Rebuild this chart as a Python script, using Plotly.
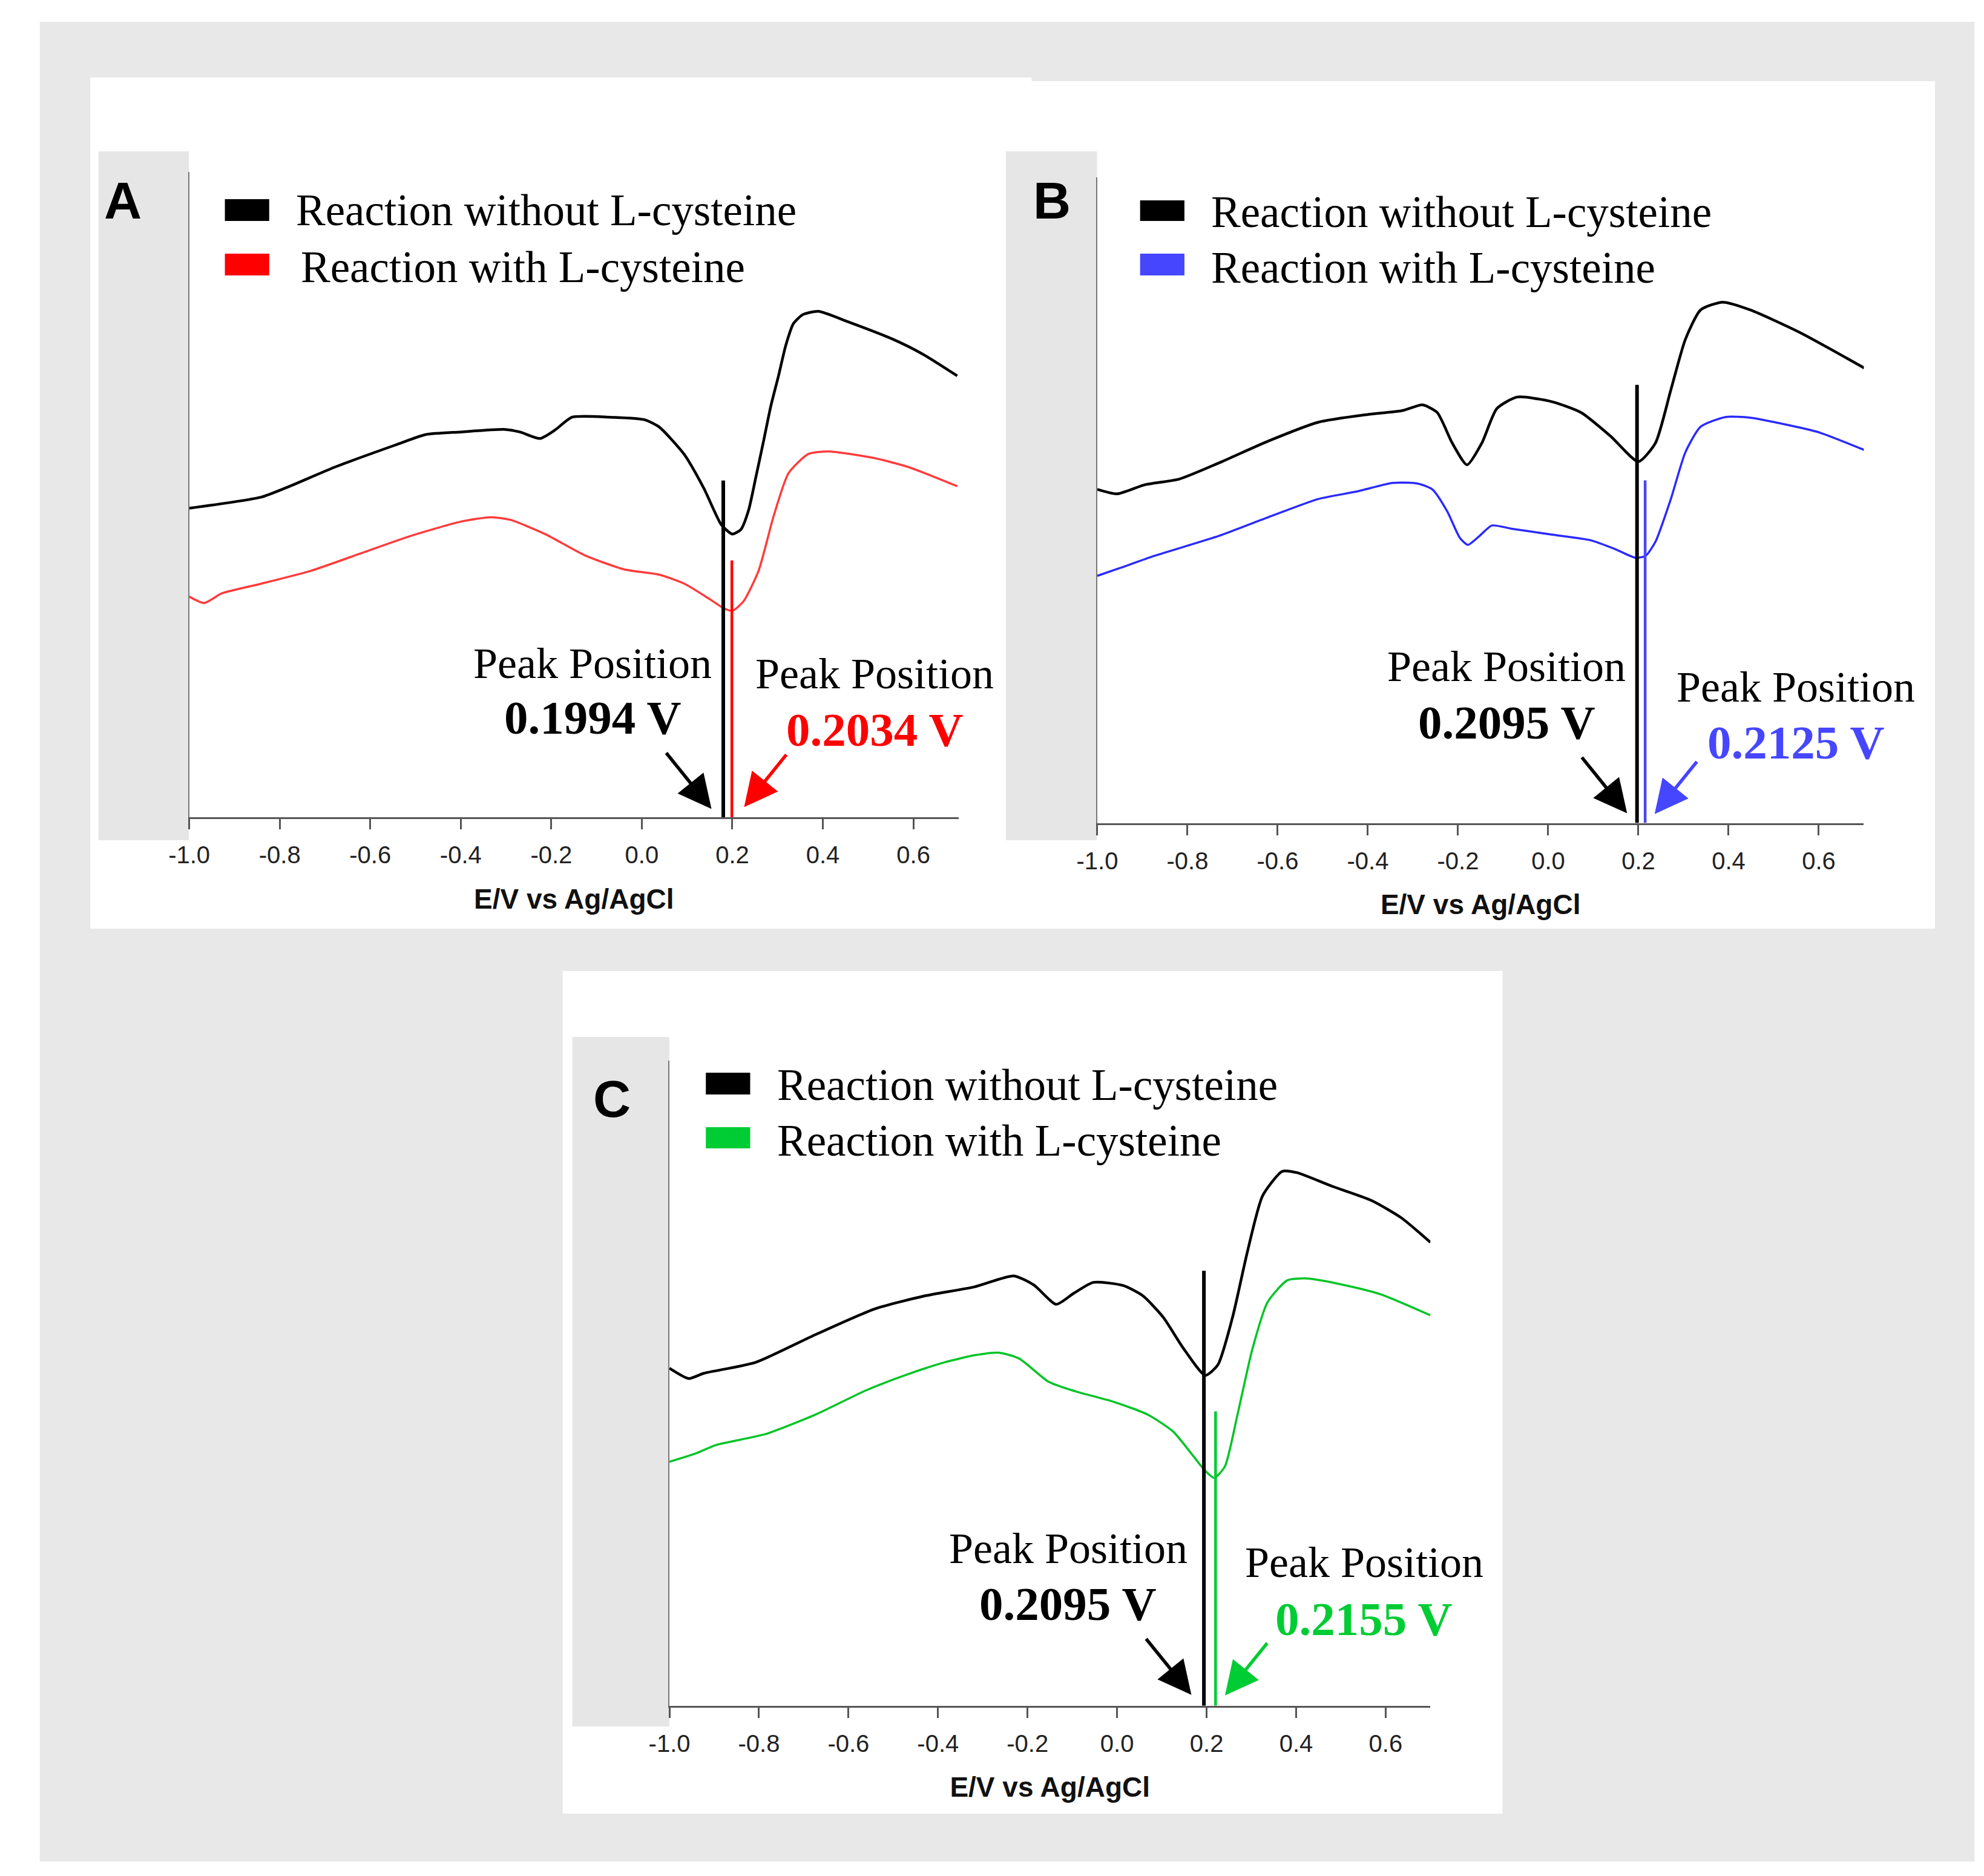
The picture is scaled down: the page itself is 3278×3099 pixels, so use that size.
import plotly.graph_objects as go

W = 3278
H = 3099

# ---- data (E in V vs Ag/AgCl, current in arbitrary units) ----
a_black_x = [-1.000, -0.842, -0.785, -0.677, -0.544, -0.478, -0.401, -0.302, -0.269, -0.225, -0.192, -0.154,
             -0.071, 0.006, 0.038, 0.093, 0.137, 0.176, 0.200, 0.219, 0.236, 0.252, 0.269, 0.285, 0.302, 0.318,
             0.335, 0.356, 0.390, 0.455, 0.554, 0.620, 0.697]
a_black_y = [47.9, 49.6, 51.1, 54.3, 57.7, 59.3, 59.7, 60.1, 59.7, 58.7, 60.0, 62.0, 62.0, 61.6, 60.5, 56.3,
             51.0, 45.3, 43.9, 44.6, 47.6, 52.7, 58.3, 63.7, 68.4, 73.1, 76.5, 77.9, 78.4, 76.8, 74.1, 71.8, 68.4]
a_red_x = [-1.0, -0.967, -0.928, -0.841, -0.731, -0.621, -0.511, -0.401, -0.335, -0.291, -0.214, -0.126, -0.038,
           0.038, 0.094, 0.148, 0.181, 0.200, 0.225, 0.258, 0.291, 0.324, 0.368, 0.412, 0.511, 0.588, 0.697]
a_red_y = [34.2, 33.2, 34.7, 36.2, 38.2, 40.9, 43.6, 45.8, 46.5, 46.1, 43.9, 40.6, 38.4, 37.6, 36.2, 33.9, 32.4,
           32.0, 33.5, 38.2, 46.6, 53.3, 56.3, 56.7, 55.7, 54.3, 51.3]

b_black_x = [-1.0, -0.956, -0.895, -0.818, -0.730, -0.620, -0.510, -0.400, -0.323, -0.279, -0.246, -0.213,
             -0.180, -0.147, -0.114, -0.069, 0.007, 0.073, 0.139, 0.200, 0.238, 0.272, 0.304, 0.338, 0.387,
             0.448, 0.558, 0.701]
b_black_y = [51.7, 51.0, 52.4, 53.3, 55.8, 59.2, 62.1, 63.3, 63.9, 64.8, 63.6, 58.9, 55.5, 58.9, 64.2, 66.0,
             65.3, 63.6, 59.9, 56.0, 58.9, 67.1, 74.9, 79.5, 80.7, 79.5, 76.0, 70.5]
b_blue_x = [-1.0, -0.950, -0.873, -0.730, -0.620, -0.510, -0.422, -0.345, -0.290, -0.257, -0.224, -0.196, -0.178,
            -0.152, -0.125, -0.081, 0.007, 0.095, 0.150, 0.194, 0.216, 0.238, 0.272, 0.304, 0.338, 0.393, 0.448,
            0.536, 0.602, 0.701]
b_blue_y = [38.3, 39.5, 41.4, 44.5, 47.4, 50.2, 51.4, 52.7, 52.6, 51.7, 48.3, 44.2, 43.1, 44.5, 46.1, 45.6,
            44.7, 43.8, 42.4, 41.1, 41.4, 43.6, 50.2, 57.4, 61.4, 62.9, 62.8, 61.6, 60.5, 57.8]

c_black_x = [-1.0, -0.957, -0.924, -0.808, -0.674, -0.541, -0.430, -0.319, -0.231, -0.186, -0.136, -0.097,
             -0.053, 0.014, 0.058, 0.103, 0.147, 0.197, 0.225, 0.258, 0.291, 0.325, 0.369, 0.402, 0.480, 0.568,
             0.635, 0.700]
c_black_y = [52.3, 50.7, 51.5, 53.2, 57.5, 61.5, 63.5, 64.9, 66.6, 65.2, 62.2, 63.9, 65.6, 65.1, 63.5, 60.2,
             55.5, 51.2, 52.8, 60.2, 70.3, 79.0, 82.8, 82.6, 80.5, 78.3, 75.6, 71.8]
c_green_x = [-1.0, -0.941, -0.896, -0.785, -0.674, -0.563, -0.474, -0.386, -0.319, -0.264, -0.219, -0.153,
             -0.097, -0.008, 0.069, 0.125, 0.169, 0.197, 0.217, 0.241, 0.269, 0.302, 0.336, 0.380, 0.425, 0.513,
             0.591, 0.700]
c_green_y = [37.8, 39.1, 40.4, 42.1, 45.1, 48.8, 51.2, 53.2, 54.3, 54.7, 53.8, 50.2, 48.8, 47.1, 45.1, 42.5,
             38.8, 36.4, 35.3, 37.1, 45.1, 55.2, 62.5, 65.9, 66.2, 65.1, 63.7, 60.5]

# peak marker lines: [without, with]
peak_line_x = {"A": [0.180, 0.199], "B": [0.197, 0.215], "C": [0.194, 0.220]}
peak_line_top = {"A": [52.2, 39.8], "B": [67.9, 53.1], "C": [67.4, 45.6]}
peak_labels = {"A": ["0.1994 V", "0.2034 V"], "B": ["0.2095 V", "0.2125 V"], "C": ["0.2095 V", "0.2155 V"]}
# arrow tips (data coords) for the two peak labels
arrow_tip_x = {"A": [0.154, 0.226], "B": [0.175, 0.236], "C": [0.166, 0.241]}
arrow_tip_y = {"A": [1.3, 1.6], "B": [1.5, 1.4], "C": [1.7, 1.6]}

tick_vals = [-1.0, -0.8, -0.6, -0.4, -0.2, 0.0, 0.2, 0.4, 0.6]
tick_text = ["-1.0", "-0.8", "-0.6", "-0.4", "-0.2", "0.0", "0.2", "0.4", "0.6"]
legend_names = ["Reaction without L-cysteine", "Reaction with L-cysteine"]

SERIF = "Liberation Serif, Times New Roman, serif"
NARROW = "Liberation Sans Narrow, Arial Narrow, Liberation Sans, Arial, sans-serif"
SANS = "Liberation Sans, Arial, sans-serif"


def px(x):
    return x / W


def py(y):
    return 1 - y / H


# panel geometry in pixels: x axis left/right, y axis bottom/top
panels = {
    "A": dict(xa="x", ya="y", x0=273.5, x1=1558.0, yb=1342.2, yt=276.0, col="#ff0000", curve="#ff3b3b",
              bx=a_black_x, by=a_black_y, cx=a_red_x, cy=a_red_y),
    "B": dict(xa="x2", ya="y2", x0=1789.5, x1=3069.3, yb=1351.6, yt=285.4, col="#4646ff", curve="#2a2aff",
              bx=b_black_x, by=b_black_y, cx=b_blue_x, cy=b_blue_y),
    "C": dict(xa="x3", ya="y3", x0=1075.2, x1=2345.7, yb=2809.8, yt=1743.6, col="#00cc33", curve="#00c425",
              bx=c_black_x, by=c_black_y, cx=c_green_x, cy=c_green_y),
}

fig = go.Figure()

for key, p in panels.items():
    fig.add_trace(go.Scatter(x=p["bx"], y=p["by"], mode="lines", xaxis=p["xa"], yaxis=p["ya"],
                             line=dict(color="black", width=4.5, shape="spline", smoothing=0.6),
                             name=legend_names[0], showlegend=False))
    fig.add_trace(go.Scatter(x=p["cx"], y=p["cy"], mode="lines", xaxis=p["xa"], yaxis=p["ya"],
                             line=dict(color=p["curve"], width=3.5, shape="spline", smoothing=0.6),
                             name=legend_names[1], showlegend=False))
    # vertical peak markers
    for i, c in enumerate(["black", p["col"]]):
        xv = peak_line_x[key][i]
        fig.add_trace(go.Scatter(x=[xv, xv], y=[0, peak_line_top[key][i]], mode="lines",
                                 xaxis=p["xa"], yaxis=p["ya"], line=dict(color=c, width=6 if i == 0 else 4.5),
                                 showlegend=False, hoverinfo="skip"))

# ---- backgrounds ----
shapes = []


def rect(x0, y0, x1, y1, color):
    shapes.append(dict(type="rect", xref="paper", yref="paper", x0=px(x0), x1=px(x1), y0=py(y1), y1=py(y0),
                       fillcolor=color, line=dict(width=0), layer="below"))


rect(24, 28, 3254, 3067, "#e8e8e8")
rect(108, 120, 1680, 1526, "white")
rect(1672, 126, 3188, 1526, "white")
rect(897, 1596, 2466, 2988, "white")
rect(122, 242, 273, 1380, "#e6e6e6")
rect(1637, 242, 1789, 1380, "#e6e6e6")
rect(913, 1705, 1075, 2844, "#e6e6e6")

# legend swatches
swatches = {"A": (333, 321, 407, 357, 411, 447), "B": (1861, 323, 1935, 357, 411, 447),
            "C": (1136, 1764, 1210, 1800, 1854, 1889)}
for key, (sx0, sy0, sx1, sy1, sy2, sy3) in swatches.items():
    rect(sx0, sy0, sx1, sy1, "black")
    rect(sx0, sy2, sx1, sy3, panels[key]["col"])

annotations = []


def label(x, y, text, size, color="black", family=SERIF, bold=False, anchor="center"):
    if bold:
        text = "<b>" + text + "</b>"
    annotations.append(dict(x=px(x), y=py(y), xref="paper", yref="paper", text=text, showarrow=False,
                            xanchor=anchor, yanchor="middle", font=dict(family=family, size=size, color=color)))


# panel letters
label(163, 323, "A", 86, family=SANS, bold=True)
label(1714, 323, "B", 86, family=SANS, bold=True)
label(979, 1807, "C", 86, family=SANS, bold=True)

# legends
legend_pos = {"A": (450, 340, 458, 433), "B": (1978, 342, 1978, 435), "C": (1253, 1784, 1253, 1876)}
for key, (lx1, ly1, lx2, ly2) in legend_pos.items():
    label(lx1, ly1, legend_names[0], 73, anchor="left")
    label(lx2, ly2, legend_names[1], 73, anchor="left")

# peak position text
peak_text_pos = {
    "A": [(947, 1088, 1178), (1418, 1105, 1197)],
    "B": [(2473, 1093, 1185), (2956, 1127, 1218)],
    "C": [(1741, 2550, 2641), (2235, 2573, 2666)],
}
for key, pos in peak_text_pos.items():
    for i, (tx, ty1, ty2) in enumerate(pos):
        c = "black" if i == 0 else panels[key]["col"]
        label(tx, ty1, "Peak Position", 72)
        label(tx, ty2, peak_labels[key][i], 79, color=c, bold=True)

# arrows
arrow_offsets = [(-76, -94), (71, -88)]
for key, p in panels.items():
    for i in range(2):
        c = "black" if i == 0 else p["col"]
        annotations.append(dict(x=arrow_tip_x[key][i], y=arrow_tip_y[key][i], xref=p["xa"], yref=p["ya"],
                                ax=arrow_offsets[i][0], ay=arrow_offsets[i][1], text="", showarrow=True,
                                arrowhead=2, arrowsize=2.0, arrowwidth=5.5, arrowcolor=c, standoff=0))

layout = dict(width=W, height=H, margin=dict(l=0, r=0, t=0, b=0), paper_bgcolor="white",
              plot_bgcolor="rgba(0,0,0,0)", shapes=shapes, annotations=annotations, showlegend=False)

for key, p in panels.items():
    xname = "xaxis" + p["xa"][1:]
    yname = "yaxis" + p["ya"][1:]
    layout[xname] = dict(domain=[px(p["x0"]), px(p["x1"])], range=[-1.0, 0.7], anchor=p["ya"],
                         tickvals=tick_vals, ticktext=tick_text, ticks="outside", ticklen=17, tickwidth=3,
                         tickcolor="#555555", showline=True, linecolor="#555555", linewidth=3,
                         showgrid=False, zeroline=False, ticklabelstandoff=8,
                         tickfont=dict(family=NARROW, size=40, color="#222222"),
                         title=dict(text="<b>E/V vs Ag/AgCl</b>", standoff=36,
                                    font=dict(family=NARROW, size=46, color="#111111")))
    layout[yname] = dict(domain=[py(p["yb"]), py(p["yt"])], range=[0, 100], anchor=p["xa"],
                         showline=True, linecolor="#777777", linewidth=2, showgrid=False, zeroline=False,
                         showticklabels=False, ticks="")

fig.update_layout(**layout)

fig.write_html("out.html")
